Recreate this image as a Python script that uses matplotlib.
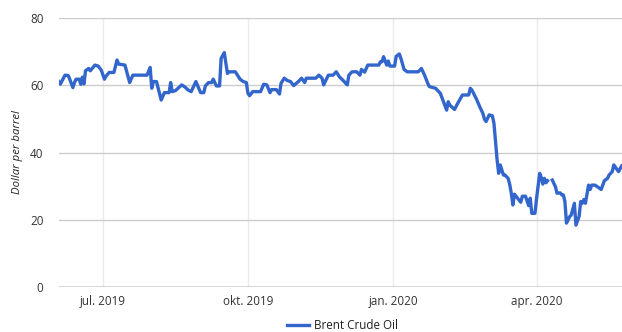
import numpy as np
import matplotlib
matplotlib.use("Agg")
import matplotlib.pyplot as plt
import matplotlib.dates as mdates
from matplotlib.lines import Line2D

# Brent crude oil, dollar per barrel
start_date = "2019-06-03"
day_offsets = [
    0, 1, 4, 6, 7, 9, 10, 11, 13, 14, 15, 16, 17, 19, 20, 23, 25, 27, 29, 30,
    32, 35, 37, 38, 42, 45, 47, 56, 58, 59, 60, 62, 65, 67, 70, 71, 72, 74, 78, 80,
    82, 84, 87, 90, 92, 93, 95, 97, 98, 100, 102, 103, 105, 107, 108, 112, 115, 117, 119, 120,
    121, 123, 128, 130, 132, 134, 135, 138, 140, 141, 143, 145, 147, 149, 152, 154, 156, 157, 163, 165,
    167, 168, 171, 174, 176, 178, 180, 183, 184, 186, 189, 191, 192, 194, 196, 203, 204, 205, 206, 208,
    209, 210, 213, 214, 216, 217, 219, 221, 228, 230, 232, 234, 235, 239, 240, 242, 244, 246, 247, 248,
    251, 253, 256, 260, 261, 262, 265, 267, 269, 270, 271, 273, 275, 276, 277, 278, 279, 280, 282, 283,
    285, 286, 287, 288, 289, 291, 293, 294, 296, 298, 299, 300, 302, 303, 305, 306, 307, 308, 309, 310,
    311, 313, 315, 316, 318, 319, 320, 321, 322, 324, 325, 327, 328, 330, 331, 332, 333, 334, 336, 337,
    338, 340, 342, 344, 346, 348, 349, 351, 352, 354, 355, 357,
]
brent_price = [
    61.1, 60.3, 63.0, 62.9, 61.8, 59.3, 60.8, 61.8, 61.8, 60.3, 62.4, 60.4, 64.3, 65.0, 64.3, 66.0, 65.7, 64.5, 61.8, 62.7,
    63.8, 63.8, 67.5, 66.3, 66.0, 60.8, 63.0, 63.0, 65.3, 59.1, 61.1, 61.1, 55.6, 57.8, 57.8, 60.8, 58.1, 58.4, 60.1, 59.5,
    58.6, 58.1, 61.1, 57.8, 57.8, 59.8, 60.8, 60.8, 61.8, 59.8, 59.8, 68.0, 69.7, 63.5, 64.0, 64.0, 61.8, 61.1, 60.8, 57.6,
    56.9, 58.1, 58.1, 60.3, 60.1, 57.8, 58.7, 58.7, 57.4, 60.6, 62.1, 61.4, 61.1, 59.9, 61.1, 62.1, 60.8, 62.1, 62.1, 63.0,
    62.1, 60.1, 63.0, 63.0, 64.0, 62.5, 61.6, 60.1, 63.0, 64.0, 64.0, 63.0, 64.7, 63.9, 66.0, 66.0, 67.0, 67.0, 68.5, 66.0,
    67.2, 65.7, 65.7, 68.6, 69.3, 68.0, 64.7, 64.0, 64.0, 65.0, 63.0, 60.6, 59.6, 59.1, 58.6, 57.6, 55.1, 52.6, 55.1, 54.1,
    52.8, 54.6, 57.1, 57.1, 59.1, 58.6, 55.8, 53.6, 51.6, 49.9, 49.2, 51.2, 50.9, 48.7, 43.2, 37.8, 33.8, 36.3, 33.3, 33.3,
    32.3, 30.5, 27.9, 24.4, 27.6, 26.4, 25.2, 27.0, 27.0, 24.2, 26.4, 21.9, 21.9, 26.2, 33.8, 32.6, 30.6, 32.3, 31.0, 31.6,
    np.nan, 31.8, 29.8, 27.9, 28.0, 27.4, 27.4, 25.4, 19.0, 20.9, 21.4, 24.9, 18.4, 21.0, 25.4, 24.9, 26.0, 24.9, 30.3, 29.0,
    30.3, 30.3, 29.7, 29.0, 31.6, 32.3, 33.3, 34.3, 36.3, 35.0, 34.3, 36.0,
]
x_span_days = 357.2
tick_dates = ["2019-07-01", "2019-10-01", "2020-01-01", "2020-04-01"]
tick_labels = ["jul. 2019", "okt. 2019", "jan. 2020", "apr. 2020"]
y_ticks = [0, 20, 40, 60, 80]
series_name = "Brent Crude Oil"
y_title = "Dollar per barrel"

plt.rcParams["font.family"] = ["Open Sans", "DejaVu Sans"]

line_color = "#3366cc"
t0 = mdates.date2num(np.datetime64(start_date))
x = t0 + np.asarray(day_offsets, dtype=float)
y = np.asarray(brent_price, dtype=float)

fig = plt.figure(figsize=(6.22, 3.32), dpi=100)
ax = fig.add_axes([58.7 / 622, 45 / 332, 1 - 58.7 / 622, 269 / 332])

ax.set_xlim(t0, t0 + x_span_days)
ax.set_ylim(0, 80)

# grid: darker horizontal, light vertical at quarter starts
for v in y_ticks[1:]:
    ax.axhline(v, color="#cccccc", lw=1.0, zorder=1)
tick_x = [mdates.date2num(np.datetime64(d)) for d in tick_dates]
for tx in tick_x:
    ax.axvline(tx, color="#ebebeb", lw=1.0, zorder=0)
ax.axhline(0, color="#333333", lw=1.0, zorder=2)

ax.plot(x, y, color=line_color, lw=2.4, zorder=3, solid_joinstyle="round")

for s in ax.spines.values():
    s.set_visible(False)
ax.set_xticks(tick_x)
ax.set_xticklabels(tick_labels)
ax.set_yticks(y_ticks)
ax.set_yticklabels([str(v) for v in y_ticks])
ax.tick_params(axis="both", length=0, labelsize=8.4, colors="#333333")
ax.tick_params(axis="y", pad=11)
ax.tick_params(axis="x", pad=6)
ax.set_ylabel(y_title, fontsize=8.2, style="italic", color="#222222", labelpad=5)

handle = Line2D([0], [0], color=line_color, lw=2.4)
fig.legend([handle], [series_name], loc="center", bbox_to_anchor=(0.55, 0.02),
           frameon=False, fontsize=8.4, handlelength=1.9, handletextpad=0.4,
           labelcolor="#222222")

fig.savefig("out.png", dpi=100)
